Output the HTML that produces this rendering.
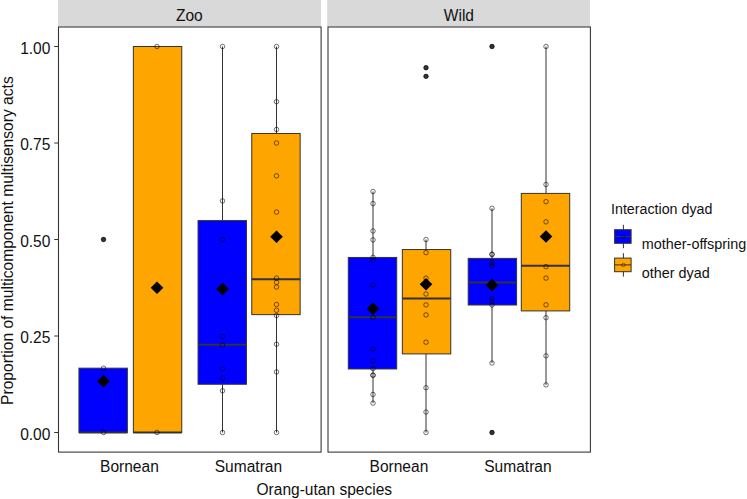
<!DOCTYPE html><html><head><meta charset="utf-8"><style>
html,body{margin:0;padding:0;background:#fff;}
body{width:747px;height:499px;overflow:hidden;position:relative;font-family:"Liberation Sans",sans-serif;}
svg{position:absolute;left:0;top:0;}
text{font-family:"Liberation Sans",sans-serif;fill:#111;}
</style></head><body>
<svg width="747" height="499" viewBox="0 0 747 499">
<rect x="0" y="0" width="747" height="499" fill="#ffffff"/>
<rect x="58" y="0" width="263" height="26.6" fill="#d9d9d9"/>
<rect x="327.2" y="0" width="262.8" height="26.6" fill="#d9d9d9"/>
<rect x="78.95" y="368.17" width="48.40" height="64.33" fill="#0000ff" stroke="#333333" stroke-width="1"/><line x1="78.95" x2="127.35" y1="432.50" y2="432.50" stroke="#333333" stroke-width="2"/>
<circle cx="103.50" cy="239.50" r="2.4" fill="#333333"/>
<rect x="133.35" y="46.50" width="48.40" height="386.00" fill="#ffa500" stroke="#333333" stroke-width="1"/><line x1="133.35" x2="181.75" y1="432.50" y2="432.50" stroke="#333333" stroke-width="2"/>
<line x1="222.50" x2="222.50" y1="46.50" y2="220.59" stroke="#333333" stroke-width="1"/><line x1="222.50" x2="222.50" y1="384.25" y2="432.50" stroke="#333333" stroke-width="1"/><rect x="198.05" y="220.59" width="48.40" height="163.66" fill="#0000ff" stroke="#333333" stroke-width="1"/><line x1="198.05" x2="246.45" y1="344.65" y2="344.65" stroke="#333333" stroke-width="2"/>
<line x1="276.50" x2="276.50" y1="46.50" y2="133.47" stroke="#333333" stroke-width="1"/><line x1="276.50" x2="276.50" y1="314.62" y2="432.50" stroke="#333333" stroke-width="1"/><rect x="251.75" y="133.47" width="48.40" height="181.15" fill="#ffa500" stroke="#333333" stroke-width="1"/><line x1="251.75" x2="300.15" y1="279.26" y2="279.26" stroke="#333333" stroke-width="2"/>
<line x1="373.00" x2="373.00" y1="191.52" y2="257.45" stroke="#333333" stroke-width="1"/><line x1="373.00" x2="373.00" y1="368.96" y2="403.09" stroke="#333333" stroke-width="1"/><rect x="348.30" y="257.45" width="48.40" height="111.52" fill="#0000ff" stroke="#333333" stroke-width="1"/><line x1="348.30" x2="396.70" y1="317.20" y2="317.20" stroke="#333333" stroke-width="2"/>
<line x1="426.00" x2="426.00" y1="239.50" y2="249.54" stroke="#333333" stroke-width="1"/><line x1="426.00" x2="426.00" y1="353.91" y2="432.50" stroke="#333333" stroke-width="1"/><rect x="402.35" y="249.54" width="48.40" height="104.37" fill="#ffa500" stroke="#333333" stroke-width="1"/><line x1="402.35" x2="450.75" y1="298.56" y2="298.56" stroke="#333333" stroke-width="2"/>
<circle cx="426.00" cy="67.73" r="2.4" fill="#333333"/>
<circle cx="426.00" cy="76.34" r="2.4" fill="#333333"/>
<line x1="492.00" x2="492.00" y1="208.31" y2="258.38" stroke="#333333" stroke-width="1"/><line x1="492.00" x2="492.00" y1="305.00" y2="363.02" stroke="#333333" stroke-width="1"/><rect x="468.20" y="258.38" width="48.40" height="46.63" fill="#0000ff" stroke="#333333" stroke-width="1"/><line x1="468.20" x2="516.60" y1="282.58" y2="282.58" stroke="#333333" stroke-width="2"/>
<circle cx="492.00" cy="46.50" r="2.4" fill="#333333"/>
<circle cx="492.00" cy="432.50" r="2.4" fill="#333333"/>
<line x1="546.00" x2="546.00" y1="46.50" y2="193.41" stroke="#333333" stroke-width="1"/><line x1="546.00" x2="546.00" y1="310.91" y2="384.87" stroke="#333333" stroke-width="1"/><rect x="521.30" y="193.41" width="48.40" height="117.50" fill="#ffa500" stroke="#333333" stroke-width="1"/><line x1="521.30" x2="569.70" y1="265.75" y2="265.75" stroke="#333333" stroke-width="2"/>
<circle cx="103.50" cy="432.50" r="2.25" fill="none" stroke="#000" stroke-opacity="0.55" stroke-width="1"/><circle cx="103.50" cy="368.17" r="2.25" fill="none" stroke="#000" stroke-opacity="0.55" stroke-width="1"/><circle cx="103.50" cy="239.50" r="2.25" fill="none" stroke="#000" stroke-opacity="0.55" stroke-width="1"/>
<circle cx="157.00" cy="432.50" r="2.25" fill="none" stroke="#000" stroke-opacity="0.55" stroke-width="1"/><circle cx="157.00" cy="46.50" r="2.25" fill="none" stroke="#000" stroke-opacity="0.55" stroke-width="1"/>
<circle cx="222.50" cy="432.50" r="2.25" fill="none" stroke="#000" stroke-opacity="0.55" stroke-width="1"/><circle cx="222.50" cy="390.81" r="2.25" fill="none" stroke="#000" stroke-opacity="0.55" stroke-width="1"/><circle cx="222.50" cy="378.07" r="2.25" fill="none" stroke="#000" stroke-opacity="0.55" stroke-width="1"/><circle cx="222.50" cy="368.81" r="2.25" fill="none" stroke="#000" stroke-opacity="0.55" stroke-width="1"/><circle cx="222.50" cy="345.03" r="2.25" fill="none" stroke="#000" stroke-opacity="0.55" stroke-width="1"/><circle cx="222.50" cy="336.39" r="2.25" fill="none" stroke="#000" stroke-opacity="0.55" stroke-width="1"/><circle cx="222.50" cy="239.50" r="2.25" fill="none" stroke="#000" stroke-opacity="0.55" stroke-width="1"/><circle cx="222.50" cy="200.90" r="2.25" fill="none" stroke="#000" stroke-opacity="0.55" stroke-width="1"/><circle cx="222.50" cy="46.50" r="2.25" fill="none" stroke="#000" stroke-opacity="0.55" stroke-width="1"/>
<circle cx="276.50" cy="432.50" r="2.25" fill="none" stroke="#000" stroke-opacity="0.55" stroke-width="1"/><circle cx="276.50" cy="371.90" r="2.25" fill="none" stroke="#000" stroke-opacity="0.55" stroke-width="1"/><circle cx="276.50" cy="344.22" r="2.25" fill="none" stroke="#000" stroke-opacity="0.55" stroke-width="1"/><circle cx="276.50" cy="315.54" r="2.25" fill="none" stroke="#000" stroke-opacity="0.55" stroke-width="1"/><circle cx="276.50" cy="310.29" r="2.25" fill="none" stroke="#000" stroke-opacity="0.55" stroke-width="1"/><circle cx="276.50" cy="304.50" r="2.25" fill="none" stroke="#000" stroke-opacity="0.55" stroke-width="1"/><circle cx="276.50" cy="286.98" r="2.25" fill="none" stroke="#000" stroke-opacity="0.55" stroke-width="1"/><circle cx="276.50" cy="282.35" r="2.25" fill="none" stroke="#000" stroke-opacity="0.55" stroke-width="1"/><circle cx="276.50" cy="278.10" r="2.25" fill="none" stroke="#000" stroke-opacity="0.55" stroke-width="1"/><circle cx="276.50" cy="212.09" r="2.25" fill="none" stroke="#000" stroke-opacity="0.55" stroke-width="1"/><circle cx="276.50" cy="175.81" r="2.25" fill="none" stroke="#000" stroke-opacity="0.55" stroke-width="1"/><circle cx="276.50" cy="143.00" r="2.25" fill="none" stroke="#000" stroke-opacity="0.55" stroke-width="1"/><circle cx="276.50" cy="129.49" r="2.25" fill="none" stroke="#000" stroke-opacity="0.55" stroke-width="1"/><circle cx="276.50" cy="101.70" r="2.25" fill="none" stroke="#000" stroke-opacity="0.55" stroke-width="1"/><circle cx="276.50" cy="46.50" r="2.25" fill="none" stroke="#000" stroke-opacity="0.55" stroke-width="1"/>
<circle cx="373.00" cy="403.09" r="2.25" fill="none" stroke="#000" stroke-opacity="0.55" stroke-width="1"/><circle cx="373.00" cy="394.44" r="2.25" fill="none" stroke="#000" stroke-opacity="0.55" stroke-width="1"/><circle cx="373.00" cy="375.18" r="2.25" fill="none" stroke="#000" stroke-opacity="0.55" stroke-width="1"/><circle cx="373.00" cy="375.18" r="2.25" fill="none" stroke="#000" stroke-opacity="0.55" stroke-width="1"/><circle cx="373.00" cy="368.62" r="2.25" fill="none" stroke="#000" stroke-opacity="0.55" stroke-width="1"/><circle cx="373.00" cy="360.86" r="2.25" fill="none" stroke="#000" stroke-opacity="0.55" stroke-width="1"/><circle cx="373.00" cy="349.12" r="2.25" fill="none" stroke="#000" stroke-opacity="0.55" stroke-width="1"/><circle cx="373.00" cy="317.59" r="2.25" fill="none" stroke="#000" stroke-opacity="0.55" stroke-width="1"/><circle cx="373.00" cy="285.16" r="2.25" fill="none" stroke="#000" stroke-opacity="0.55" stroke-width="1"/><circle cx="373.00" cy="260.34" r="2.25" fill="none" stroke="#000" stroke-opacity="0.55" stroke-width="1"/><circle cx="373.00" cy="257.26" r="2.25" fill="none" stroke="#000" stroke-opacity="0.55" stroke-width="1"/><circle cx="373.00" cy="239.89" r="2.25" fill="none" stroke="#000" stroke-opacity="0.55" stroke-width="1"/><circle cx="373.00" cy="231.01" r="2.25" fill="none" stroke="#000" stroke-opacity="0.55" stroke-width="1"/><circle cx="373.00" cy="203.60" r="2.25" fill="none" stroke="#000" stroke-opacity="0.55" stroke-width="1"/><circle cx="373.00" cy="191.52" r="2.25" fill="none" stroke="#000" stroke-opacity="0.55" stroke-width="1"/>
<circle cx="426.00" cy="432.50" r="2.25" fill="none" stroke="#000" stroke-opacity="0.55" stroke-width="1"/><circle cx="426.00" cy="412.04" r="2.25" fill="none" stroke="#000" stroke-opacity="0.55" stroke-width="1"/><circle cx="426.00" cy="387.72" r="2.25" fill="none" stroke="#000" stroke-opacity="0.55" stroke-width="1"/><circle cx="426.00" cy="342.18" r="2.25" fill="none" stroke="#000" stroke-opacity="0.55" stroke-width="1"/><circle cx="426.00" cy="314.92" r="2.25" fill="none" stroke="#000" stroke-opacity="0.55" stroke-width="1"/><circle cx="426.00" cy="304.93" r="2.25" fill="none" stroke="#000" stroke-opacity="0.55" stroke-width="1"/><circle cx="426.00" cy="294.00" r="2.25" fill="none" stroke="#000" stroke-opacity="0.55" stroke-width="1"/><circle cx="426.00" cy="278.10" r="2.25" fill="none" stroke="#000" stroke-opacity="0.55" stroke-width="1"/><circle cx="426.00" cy="252.62" r="2.25" fill="none" stroke="#000" stroke-opacity="0.55" stroke-width="1"/><circle cx="426.00" cy="239.50" r="2.25" fill="none" stroke="#000" stroke-opacity="0.55" stroke-width="1"/><circle cx="426.00" cy="67.73" r="2.25" fill="none" stroke="#000" stroke-opacity="0.55" stroke-width="1"/><circle cx="426.00" cy="76.34" r="2.25" fill="none" stroke="#000" stroke-opacity="0.55" stroke-width="1"/>
<circle cx="492.00" cy="363.02" r="2.25" fill="none" stroke="#000" stroke-opacity="0.55" stroke-width="1"/><circle cx="492.00" cy="305.12" r="2.25" fill="none" stroke="#000" stroke-opacity="0.55" stroke-width="1"/><circle cx="492.00" cy="300.87" r="2.25" fill="none" stroke="#000" stroke-opacity="0.55" stroke-width="1"/><circle cx="492.00" cy="298.56" r="2.25" fill="none" stroke="#000" stroke-opacity="0.55" stroke-width="1"/><circle cx="492.00" cy="266.29" r="2.25" fill="none" stroke="#000" stroke-opacity="0.55" stroke-width="1"/><circle cx="492.00" cy="264.01" r="2.25" fill="none" stroke="#000" stroke-opacity="0.55" stroke-width="1"/><circle cx="492.00" cy="261.97" r="2.25" fill="none" stroke="#000" stroke-opacity="0.55" stroke-width="1"/><circle cx="492.00" cy="254.67" r="2.25" fill="none" stroke="#000" stroke-opacity="0.55" stroke-width="1"/><circle cx="492.00" cy="254.01" r="2.25" fill="none" stroke="#000" stroke-opacity="0.55" stroke-width="1"/><circle cx="492.00" cy="208.31" r="2.25" fill="none" stroke="#000" stroke-opacity="0.55" stroke-width="1"/><circle cx="492.00" cy="46.50" r="2.25" fill="none" stroke="#000" stroke-opacity="0.55" stroke-width="1"/><circle cx="492.00" cy="432.50" r="2.25" fill="none" stroke="#000" stroke-opacity="0.55" stroke-width="1"/>
<circle cx="546.00" cy="384.87" r="2.25" fill="none" stroke="#000" stroke-opacity="0.55" stroke-width="1"/><circle cx="546.00" cy="355.84" r="2.25" fill="none" stroke="#000" stroke-opacity="0.55" stroke-width="1"/><circle cx="546.00" cy="317.67" r="2.25" fill="none" stroke="#000" stroke-opacity="0.55" stroke-width="1"/><circle cx="546.00" cy="304.81" r="2.25" fill="none" stroke="#000" stroke-opacity="0.55" stroke-width="1"/><circle cx="546.00" cy="278.10" r="2.25" fill="none" stroke="#000" stroke-opacity="0.55" stroke-width="1"/><circle cx="546.00" cy="266.67" r="2.25" fill="none" stroke="#000" stroke-opacity="0.55" stroke-width="1"/><circle cx="546.00" cy="221.86" r="2.25" fill="none" stroke="#000" stroke-opacity="0.55" stroke-width="1"/><circle cx="546.00" cy="201.67" r="2.25" fill="none" stroke="#000" stroke-opacity="0.55" stroke-width="1"/><circle cx="546.00" cy="184.50" r="2.25" fill="none" stroke="#000" stroke-opacity="0.55" stroke-width="1"/><circle cx="546.00" cy="46.50" r="2.25" fill="none" stroke="#000" stroke-opacity="0.55" stroke-width="1"/>
<path d="M103.50 374.86L109.80 381.16L103.50 387.46L97.20 381.16Z" fill="#000"/>
<path d="M157.00 281.45L163.30 287.75L157.00 294.05L150.70 287.75Z" fill="#000"/>
<path d="M222.50 282.80L228.80 289.10L222.50 295.40L216.20 289.10Z" fill="#000"/>
<path d="M276.50 230.50L282.80 236.80L276.50 243.10L270.20 236.80Z" fill="#000"/>
<path d="M373.00 302.41L379.30 308.71L373.00 315.01L366.70 308.71Z" fill="#000"/>
<path d="M426.00 277.98L432.30 284.28L426.00 290.58L419.70 284.28Z" fill="#000"/>
<path d="M492.00 278.86L498.30 285.16L492.00 291.46L485.70 285.16Z" fill="#000"/>
<path d="M546.00 230.27L552.30 236.57L546.00 242.87L539.70 236.57Z" fill="#000"/>
<rect x="58.5" y="27.0" width="262.6" height="425.1" fill="none" stroke="#333333" stroke-width="1.07"/>
<rect x="328" y="27.0" width="262.4" height="425.1" fill="none" stroke="#333333" stroke-width="1.07"/>
<line x1="54.2" x2="58" y1="432.50" y2="432.50" stroke="#333333" stroke-width="1"/>
<text transform="translate(50.4,439.8) scale(0.91,1)" font-size="17.1" text-anchor="end">0.00</text>
<line x1="54.2" x2="58" y1="336.00" y2="336.00" stroke="#333333" stroke-width="1"/>
<text transform="translate(50.4,343.3) scale(0.91,1)" font-size="17.1" text-anchor="end">0.25</text>
<line x1="54.2" x2="58" y1="239.50" y2="239.50" stroke="#333333" stroke-width="1"/>
<text transform="translate(50.4,246.8) scale(0.91,1)" font-size="17.1" text-anchor="end">0.50</text>
<line x1="54.2" x2="58" y1="143.00" y2="143.00" stroke="#333333" stroke-width="1"/>
<text transform="translate(50.4,150.3) scale(0.91,1)" font-size="17.1" text-anchor="end">0.75</text>
<line x1="54.2" x2="58" y1="46.50" y2="46.50" stroke="#333333" stroke-width="1"/>
<text transform="translate(50.4,53.8) scale(0.91,1)" font-size="17.1" text-anchor="end">1.00</text>
<text transform="translate(189.3,20.8) scale(0.91,1)" font-size="17.1" text-anchor="middle">Zoo</text>
<text transform="translate(458.9,20.8) scale(0.91,1)" font-size="17.1" text-anchor="middle">Wild</text>
<text transform="translate(129.4,472.0) scale(0.91,1)" font-size="17.1" text-anchor="middle">Bornean</text>
<text transform="translate(248.4,472.0) scale(0.91,1)" font-size="17.1" text-anchor="middle">Sumatran</text>
<text transform="translate(398.9,472.0) scale(0.91,1)" font-size="17.1" text-anchor="middle">Bornean</text>
<text transform="translate(517.9,472.0) scale(0.91,1)" font-size="17.1" text-anchor="middle">Sumatran</text>
<text transform="translate(324.3,495.3) scale(0.91,1)" font-size="17.1" text-anchor="middle">Orang-utan species</text>
<text transform="translate(12.6,240.6) rotate(-90) scale(0.913,1)" font-size="17.1" text-anchor="middle">Proportion of multicomponent multisensory acts</text>
<text transform="translate(611.0,214.4) scale(1.0,1)" font-size="14.25" text-anchor="start">Interaction dyad</text>
<line x1="623.4" x2="623.4" y1="224.8" y2="248.2" stroke="#333333" stroke-width="1"/>
<rect x="614.6" y="229.7" width="16.5" height="13.6" fill="#0000ff" stroke="#333333" stroke-width="1"/>
<line x1="614.6" x2="631.1" y1="236.5" y2="236.5" stroke="#333333" stroke-width="1"/>
<circle cx="623.4" cy="236.5" r="1.8" fill="none" stroke="#000" stroke-opacity="0.5" stroke-width="0.8"/>
<text transform="translate(641.8,249.1) scale(1.0,1)" font-size="14.4" text-anchor="start">mother-offspring</text>
<line x1="623.4" x2="623.4" y1="253.2" y2="276.59999999999997" stroke="#333333" stroke-width="1"/>
<rect x="614.6" y="258.09999999999997" width="16.5" height="13.6" fill="#ffa500" stroke="#333333" stroke-width="1"/>
<line x1="614.6" x2="631.1" y1="264.9" y2="264.9" stroke="#333333" stroke-width="1"/>
<circle cx="623.4" cy="264.9" r="1.8" fill="none" stroke="#000" stroke-opacity="0.5" stroke-width="0.8"/>
<text transform="translate(641.8,277.5) scale(1.0,1)" font-size="14.4" text-anchor="start">other dyad</text>
</svg></body></html>
